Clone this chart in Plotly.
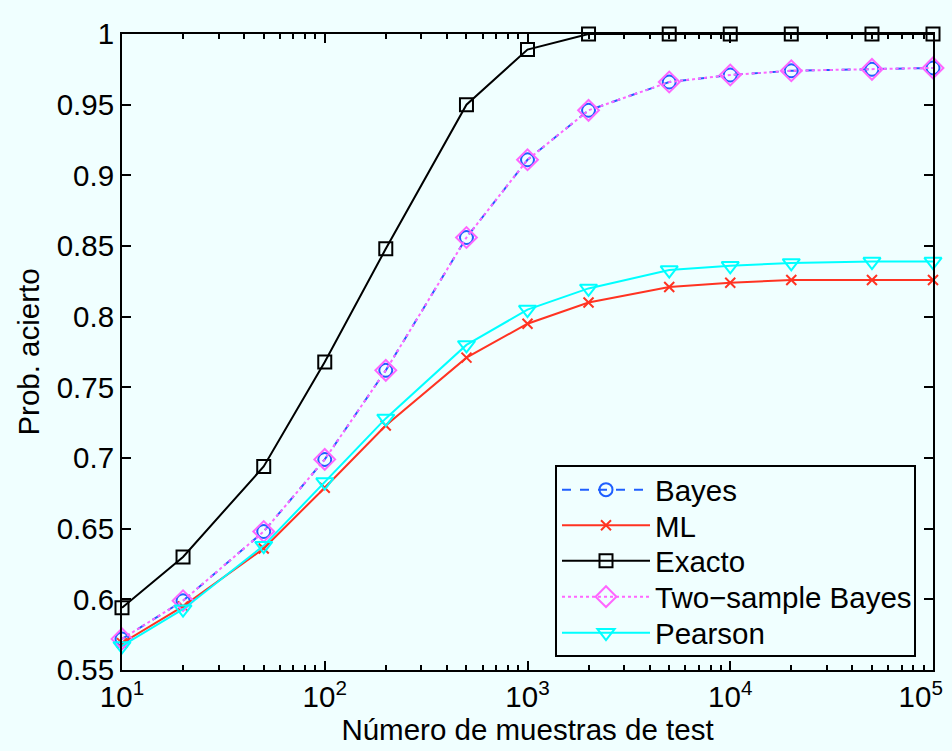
import plotly.graph_objects as go

x = [10, 20, 50, 100, 200, 500, 1000, 2000, 5000, 10000, 20000, 50000, 100000]
bayes = [0.572, 0.599, 0.648, 0.699, 0.762, 0.856, 0.911, 0.946, 0.966, 0.971, 0.974, 0.975, 0.976]
ml = [0.569, 0.595, 0.636, 0.679, 0.723, 0.771, 0.795, 0.810, 0.821, 0.824, 0.826, 0.826, 0.826]
exacto = [0.594, 0.630, 0.694, 0.768, 0.848, 0.950, 0.989, 1.0, 1.0, 1.0, 1.0, 1.0, 1.0]
two_sample = [0.572, 0.599, 0.648, 0.699, 0.762, 0.856, 0.911, 0.946, 0.966, 0.971, 0.974, 0.975, 0.976]
pearson = [0.567, 0.593, 0.638, 0.683, 0.728, 0.780, 0.805, 0.820, 0.833, 0.836, 0.838, 0.839, 0.839]

x_tickvals = [10, 100, 1000, 10000, 100000]
x_ticktext = ["10<sup>1</sup>", "10<sup>2</sup>", "10<sup>3</sup>", "10<sup>4</sup>",
              "10<sup>5</sup>\u00a0\u00a0\u00a0"]
x_minor = [m * 10 ** e for e in range(1, 5) for m in range(2, 10)]

BG = "#F0FFFF"
FONT = "Liberation Sans, Arial, Helvetica, sans-serif"
FS = 29.5

series = [
    ("Bayes", bayes, "#1F5FFF", "dash", "circle-open", 13),
    ("ML", ml, "#FF3322", "solid", "x-thin-open", 10),
    ("Exacto", exacto, "#000000", "solid", "square-open", 13),
    ("Two\u2212sample Bayes", two_sample, "#FF66FF", "dot", "diamond-open", 16),
    ("Pearson", pearson, "#00FFFF", "solid", "triangle-down-open", 15),
]

# plot area in pixels (for legend placement)
L, R, T, B = 122, 19, 34, 81
W, H = 952, 751
pw, ph = W - L - R, H - T - B

legend_names = ["legend", "legend2", "legend3", "legend4", "legend5"]
item_centers = [490, 525.5, 561, 597, 633]

fig = go.Figure()
for i, (name, ys, col, dash, sym, sz) in enumerate(series):
    fig.add_trace(go.Scatter(
        x=x, y=ys, name=name, mode="lines+markers",
        line=dict(color=col, width=2, dash=dash),
        marker=dict(symbol=sym, size=sz, color=col, line=dict(color=col, width=2)),
        cliponaxis=False, legend=legend_names[i],
    ))

legend_layout = {}
for i, ln in enumerate(legend_names):
    legend_layout[ln] = dict(
        x=(557 - L) / pw, y=(T + ph - item_centers[i]) / ph,
        xanchor="left", yanchor="middle",
        bgcolor="rgba(0,0,0,0)", borderwidth=0,
        font=dict(family=FONT, size=FS, color="black"),
        itemwidth=88,
    )

fig.add_shape(
    type="rect", xref="paper", yref="paper",
    x0=(556 - L) / pw, x1=(915 - L) / pw,
    y0=(T + ph - 656) / ph, y1=(T + ph - 466) / ph,
    line=dict(color="black", width=2), fillcolor=BG, layer="above",
)

fig.update_layout(
    width=W, height=H,
    margin=dict(l=L, r=R, t=T, b=B, autoexpand=False),
    paper_bgcolor=BG, plot_bgcolor=BG,
    font=dict(family=FONT, size=FS, color="black"),
    showlegend=True,
    xaxis=dict(
        type="log", range=[1, 5], automargin=False,
        tickvals=x_tickvals, ticktext=x_ticktext,
        ticks="inside", ticklen=9, tickwidth=1.5, tickcolor="black",
        showline=True, linecolor="black", linewidth=2, mirror="ticks",
        showgrid=False, zeroline=False, ticklabeloverflow="allow",
        minor=dict(tickmode="array", tickvals=x_minor, ticks="inside", ticklen=5,
                   tickwidth=1.5, tickcolor="black", showgrid=False),
        title=dict(text="Número de muestras de test", standoff=2, font=dict(size=FS)),
        tickfont=dict(size=FS),
    ),
    yaxis=dict(
        range=[0.55, 1], dtick=0.05, tick0=0.55, automargin=False,
        ticks="inside", ticklen=9, tickwidth=1.5, tickcolor="black",
        showline=True,
        linecolor="black", linewidth=2, mirror="ticks",
        showgrid=False, zeroline=False,
        title=dict(text="Prob. acierto", standoff=8, font=dict(size=FS)),
        tickfont=dict(size=FS),
    ),
    **legend_layout,
)

fig.write_html("out.html")
